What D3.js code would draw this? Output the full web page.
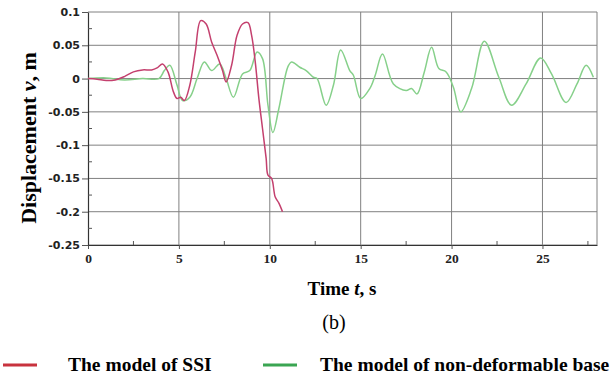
<!DOCTYPE html>
<html lang="en">
<head>
  <meta charset="UTF-8">
  <style>
body {
    margin: 0;
    background: #fff;
    font-family: "Liberation Serif", "Times New Roman", serif;
}
.grid line {
    stroke: #808080;
    stroke-width: 1px;
}
  </style>
  <title>Displacement</title>
</head>
<body>
<div id="wrapper"></div>
<script src="https://cdnjs.cloudflare.com/ajax/libs/d3/7.8.5/d3.min.js"></script>
<script>
// DATA
const xTicks = [0, 5, 10, 15, 20, 25]
const yTicks = [0.1, 0.05, 0, -0.05, -0.1, -0.15, -0.2, -0.25]

const ssiTime = [0, 0.5, 1, 1.5, 2, 2.5, 3, 3.5, 3.8, 4.1, 4.4, 4.7, 4.9, 5.1, 5.3, 5.6, 5.9, 6.2, 6.5, 6.8, 7.1, 7.4, 7.6, 7.9, 8.2, 8.5, 8.8, 9.0, 9.2, 9.4, 9.6, 9.8, 9.9, 10.1, 10.3, 10.5, 10.7]
const ssiDisp = [0, -0.001, -0.003, -0.002, 0.003, 0.010, 0.013, 0.013, 0.016, 0.022, 0.010, -0.020, -0.030, -0.028, -0.033, -0.010, 0.040, 0.087, 0.082, 0.055, 0.035, 0.012, -0.005, 0.020, 0.065, 0.082, 0.084, 0.065, 0.025, -0.030, -0.075, -0.120, -0.145, -0.150, -0.178, -0.187, -0.200]

const baseTime = [0, 1, 2, 3, 3.9, 4.2, 4.5, 4.9, 5.2, 5.6, 6.0, 6.4, 6.8, 7.25, 7.6, 8.0, 8.5, 8.9, 9.3, 9.6, 9.9, 10.17, 10.5, 11.0, 11.2, 11.65, 12.0, 12.4, 12.6, 13.1, 13.5, 13.9, 14.4, 14.6, 15.0, 15.5, 15.8, 16.2, 16.8, 17.5, 17.8, 18.1, 18.5, 18.9, 19.3, 19.7, 20.1, 20.5, 21.1, 21.8, 22.6, 23.3, 24.1, 24.9, 25.5, 26.3, 26.9, 27.4, 27.8]
const baseDisp = [0, 0.001, -0.002, 0, 0, 0.012, 0.020, -0.010, -0.033, -0.028, 0.000, 0.025, 0.012, 0.022, 0.000, -0.028, 0.007, 0.012, 0.040, 0.030, -0.040, -0.081, -0.045, 0.018, 0.025, 0.017, 0.012, 0.002, 0.000, -0.040, -0.010, 0.043, 0.012, 0.005, -0.030, -0.015, 0.005, 0.037, -0.008, -0.018, -0.015, -0.023, 0.010, 0.047, 0.015, 0.010, -0.013, -0.050, -0.015, 0.056, 0.002, -0.040, -0.008, 0.031, 0.007, -0.036, -0.008, 0.020, 0.002]

const seriesNames = ["The model of SSI", "The model of non-deformable base"]

function drawChart() {
  const dimensions = {
    width: 613,
    height: 383,
    margin: { top: 12, right: 16, bottom: 138, left: 88 },
  }
  dimensions.boundedWidth = dimensions.width - dimensions.margin.left - dimensions.margin.right
  dimensions.boundedHeight = dimensions.height - dimensions.margin.top - dimensions.margin.bottom

  const svg = d3.select("#wrapper").append("svg")
    .attr("width", dimensions.width)
    .attr("height", dimensions.height)
    .style("font-family", '"Liberation Serif", serif')

  const bounds = svg.append("g")
    .attr("transform", `translate(${dimensions.margin.left},${dimensions.margin.top})`)

  const xScale = d3.scaleLinear().domain([0, 28]).range([0, dimensions.boundedWidth])
  const yScale = d3.scaleLinear().domain([-0.25, 0.1]).range([dimensions.boundedHeight, 0])

  // grid
  const grid = bounds.append("g").attr("class", "grid")
  grid.selectAll(".gx").data(xTicks.filter(d => d > 0)).join("line")
    .attr("x1", d => xScale(d)).attr("x2", d => xScale(d))
    .attr("y1", 0).attr("y2", dimensions.boundedHeight)
  grid.selectAll(".gy").data(yTicks).join("line")
    .attr("x1", 0).attr("x2", dimensions.boundedWidth)
    .attr("y1", d => yScale(d)).attr("y2", d => yScale(d))
  grid.append("line")
    .attr("x1", dimensions.boundedWidth).attr("x2", dimensions.boundedWidth)
    .attr("y1", 0).attr("y2", dimensions.boundedHeight)

  // axes
  const xAxis = d3.axisBottom(xScale).tickValues(xTicks).tickSizeInner(4).tickSizeOuter(0).tickPadding(4)
  const xAxisG = bounds.append("g")
    .attr("transform", `translate(0,${dimensions.boundedHeight})`)
    .call(xAxis)
  const yAxis = d3.axisLeft(yScale).tickValues(yTicks).tickSizeInner(6).tickSizeOuter(0).tickPadding(2)
    .tickFormat(d => d === 0 ? "0" : String(+d.toFixed(2)))
  const yAxisG = bounds.append("g").call(yAxis)

  ;[xAxisG, yAxisG].forEach(g => {
    g.attr("font-family", null).attr("font-size", null)
    g.select(".domain").attr("stroke", "#333").attr("stroke-width", 1.2)
    g.selectAll(".tick line").attr("stroke", "#555")
  })
  xAxisG.selectAll("text")
    .style("font-family", '"Liberation Serif", serif')
    .style("font-weight", "bold")
    .style("font-size", "13.5px")
    .attr("fill", "#222")
  yAxisG.selectAll("text")
    .style("font-family", '"DejaVu Sans", sans-serif')
    .style("font-weight", "bold")
    .style("font-size", "11px")
    .attr("fill", "#222")

  // minor ticks
  const minorX = d3.range(2.5, 28, 5)
  bounds.append("g").selectAll("line").data(minorX).join("line")
    .attr("x1", d => xScale(d)).attr("x2", d => xScale(d))
    .attr("y1", dimensions.boundedHeight).attr("y2", dimensions.boundedHeight - 4)
    .attr("stroke", "#555")
  const minorY = d3.range(-0.225, 0.1, 0.05)
  bounds.append("g").selectAll("line").data(minorY).join("line")
    .attr("x1", 0).attr("x2", 4)
    .attr("y1", d => yScale(d)).attr("y2", d => yScale(d))
    .attr("stroke", "#555")

  // lines
  const line = d3.line()
    .x(d => xScale(d[0]))
    .y(d => yScale(d[1]))
    .curve(d3.curveCatmullRom.alpha(0.5))

  bounds.append("path")
    .datum(d3.zip(baseTime, baseDisp))
    .attr("fill", "none")
    .attr("stroke", "#86d08a")
    .attr("stroke-width", 1.5)
    .attr("d", line)

  bounds.append("path")
    .datum(d3.zip(ssiTime, ssiDisp))
    .attr("fill", "none")
    .attr("stroke", "#c4406e")
    .attr("stroke-width", 1.5)
    .attr("d", line)

  // labels
  svg.append("text")
    .attr("transform", `translate(36,138) rotate(-90)`)
    .attr("text-anchor", "middle")
    .style("font-weight", "bold")
    .style("font-size", "22px")
    .html('Displacement <tspan font-style="italic">v</tspan>, m')

  svg.append("text")
    .attr("x", 342).attr("y", 295)
    .attr("text-anchor", "middle")
    .style("font-weight", "bold")
    .style("font-size", "19px")
    .html('Time <tspan font-style="italic">t</tspan>, s')

  svg.append("text")
    .attr("x", 334).attr("y", 329)
    .attr("text-anchor", "middle")
    .style("font-size", "20px")
    .text("(b)")

  // legend
  const legend = svg.append("g")
  const legendItems = [
    { name: seriesNames[0], color: "#c8323e", x: 3, textX: 68 },
    { name: seriesNames[1], color: "#3aa552", x: 263, textX: 320 },
  ]
  legendItems.forEach(item => {
    legend.append("line")
      .attr("x1", item.x).attr("x2", item.x + 34)
      .attr("y1", 365).attr("y2", 365)
      .attr("stroke", item.color)
      .attr("stroke-width", 3)
    legend.append("text")
      .attr("x", item.textX).attr("y", 371)
      .style("font-weight", "bold")
      .style("font-size", "19.5px")
      .text(item.name)
  })
}
drawChart()
</script>
</body>
</html>
